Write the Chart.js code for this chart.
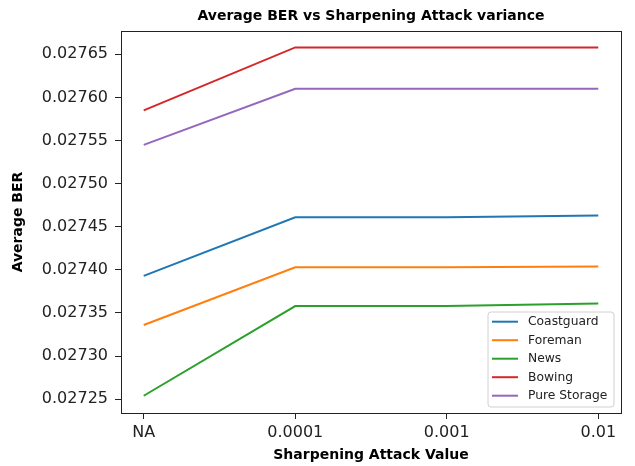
<!DOCTYPE html>
<html>
<head>
<meta charset="utf-8">
<script src="https://cdn.jsdelivr.net/npm/chart.js@4/dist/chart.umd.min.js"></script>
<style>
  html, body { margin: 0; padding: 0; background: #fff; }
  #wrap { width: 635px; height: 466px; }
</style>
</head>
<body>
<div id="wrap"><canvas id="c" width="635" height="466"></canvas></div>
<script>
// Sharpening attack levels along the x axis
const categories = ['NA', '0.0001', '0.001', '0.01'];

// Average BER per video sequence
const coastguard  = [0.027393, 0.027461, 0.027461, 0.027463];
const foreman     = [0.027336, 0.027403, 0.027403, 0.027404];
const news        = [0.027254, 0.027358, 0.027358, 0.027361];
const bowing      = [0.027585, 0.027658, 0.027658, 0.027658];
const pureStorage = [0.027545, 0.027610, 0.027610, 0.027610];

const seriesNames = ['Coastguard', 'Foreman', 'News', 'Bowing', 'Pure Storage'];
const seriesValues = [coastguard, foreman, news, bowing, pureStorage];
const seriesColors = ['#1f77b4', '#ff7f0e', '#2ca02c', '#d62728', '#9467bd'];

// Y axis tick values
const yTicks = [0.02725, 0.02730, 0.02735, 0.02740, 0.02745, 0.02750, 0.02755, 0.02760, 0.02765];

const FONT = "'DejaVu Sans', sans-serif";

const datasets = seriesNames.map((name, i) => ({
  label: name,
  data: seriesValues[i].map((v, j) => ({ x: j, y: v })),
  borderColor: seriesColors[i],
  backgroundColor: seriesColors[i],
  borderWidth: 2,
  pointRadius: 0,
  fill: false,
  tension: 0
}));

// Closed frame around the plotting area, title above it, legend inside it
const framePlugin = {
  id: 'frame',
  afterDraw(chart) {
    const { ctx, chartArea: a } = chart;
    ctx.save();
    ctx.strokeStyle = '#222';
    ctx.lineWidth = 1;
    ctx.strokeRect(Math.round(a.left) + 0.5, Math.round(a.top) + 0.5,
                   Math.round(a.right - a.left), Math.round(a.bottom - a.top));

    // title
    ctx.fillStyle = '#000';
    ctx.font = "bold 14px " + FONT;
    ctx.textAlign = 'center';
    ctx.textBaseline = 'middle';
    ctx.fillText('Average BER vs Sharpening Attack variance', (a.left + a.right) / 2, 16);

    // legend
    const ds = chart.data.datasets;
    const boxW = 126, rowH = 18.5, boxH = 95;
    const bx = a.right - 7 - boxW, by = a.bottom - 6 - boxH;
    const r = 3;
    ctx.beginPath();
    ctx.moveTo(bx + r, by);
    ctx.lineTo(bx + boxW - r, by);
    ctx.quadraticCurveTo(bx + boxW, by, bx + boxW, by + r);
    ctx.lineTo(bx + boxW, by + boxH - r);
    ctx.quadraticCurveTo(bx + boxW, by + boxH, bx + boxW - r, by + boxH);
    ctx.lineTo(bx + r, by + boxH);
    ctx.quadraticCurveTo(bx, by + boxH, bx, by + boxH - r);
    ctx.lineTo(bx, by + r);
    ctx.quadraticCurveTo(bx, by, bx + r, by);
    ctx.closePath();
    ctx.fillStyle = 'rgba(255,255,255,0.8)';
    ctx.fill();
    ctx.strokeStyle = '#d0d0d0';
    ctx.lineWidth = 1;
    ctx.stroke();

    ctx.font = "12.3px " + FONT;
    ctx.textAlign = 'left';
    ctx.textBaseline = 'middle';
    ds.forEach((d, i) => {
      const y = by + 9.7 + i * rowH;
      ctx.strokeStyle = d.borderColor;
      ctx.lineWidth = 2;
      ctx.beginPath();
      ctx.moveTo(bx + 4, y);
      ctx.lineTo(bx + 30, y);
      ctx.stroke();
      ctx.fillStyle = '#222';
      ctx.fillText(d.label, bx + 40, y + 0.5);
    });
    ctx.restore();
  }
};

new Chart(document.getElementById('c'), {
  type: 'line',
  data: { datasets },
  plugins: [framePlugin],
  options: {
    responsive: false,
    animation: false,
    devicePixelRatio: 1,
    layout: { padding: { top: 31, right: 14, bottom: 0, left: 0 } },
    plugins: {
      legend: { display: false },
      title: { display: false },
      tooltip: { enabled: false }
    },
    scales: {
      x: {
        type: 'linear',
        min: -0.15,
        max: 3.15,
        afterBuildTicks(scale) { scale.ticks = categories.map((_, i) => ({ value: i })); },
        afterFit(scale) { scale.height = 53; },
        ticks: {
          callback: (v) => categories[v],
          font: { family: FONT, size: 16 },
          color: '#222',
          padding: 4,
          maxRotation: 0,
          autoSkip: false
        },
        grid: {
          drawOnChartArea: false,
          drawTicks: true,
          tickLength: 6,
          color: '#222'
        },
        border: { display: false },
        title: {
          display: true,
          text: 'Sharpening Attack Value',
          font: { family: FONT, size: 14, weight: 'bold' },
          color: '#000',
          padding: { top: 0, bottom: 1.9 }
        }
      },
      y: {
        type: 'linear',
        min: 0.027234,
        max: 0.027677,
        afterBuildTicks(scale) { scale.ticks = yTicks.map(v => ({ value: v })); },
        afterFit(scale) { scale.width = 121; },
        ticks: {
          callback: (v) => v.toFixed(5),
          font: { family: FONT, size: 16 },
          color: '#222',
          padding: 7
        },
        grid: {
          drawOnChartArea: false,
          drawTicks: true,
          tickLength: 6,
          color: '#222'
        },
        border: { display: false },
        title: {
          display: true,
          text: 'Average BER',
          font: { family: FONT, size: 14, weight: 'bold' },
          color: '#000',
          padding: { top: 9.9, bottom: 0 }
        }
      }
    }
  }
});
</script>
</body>
</html>
